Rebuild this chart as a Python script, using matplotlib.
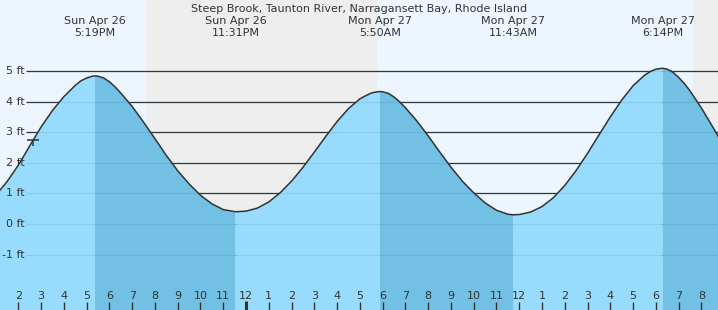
import numpy as np
import matplotlib
matplotlib.use("Agg")
import matplotlib.pyplot as plt

# ------------------------------------------------------------
# Data (hours counted from Sun Apr 26 00:00, heights in ft)
# ------------------------------------------------------------
TITLE = "Steep Brook, Taunton River, Narragansett Bay, Rhode Island"

hours = [13.0, 13.5, 14.0, 14.5, 15.0, 15.5, 16.0, 16.5, 16.75, 17.0,
         17.25, 17.37, 17.5, 17.75, 18.0, 18.25, 18.5, 19.0, 19.5, 20.0,
         20.5, 21.0, 21.5, 22.0, 22.5, 23.0, 23.54, 24.0, 24.5, 25.0,
         25.5, 26.0, 26.5, 27.0, 27.5, 28.0, 28.5, 29.0, 29.25, 29.5,
         29.75, 29.885, 30.0, 30.25, 30.5, 30.75, 31.0, 31.5, 32.0, 32.5,
         33.0, 33.5, 34.0, 34.5, 35.0, 35.5, 35.726, 36.0, 36.5, 37.0,
         37.5, 38.0, 38.5, 39.0, 39.5, 40.0, 40.5, 41.0, 41.5, 41.75,
         42.0, 42.30, 42.5, 42.75, 43.0, 43.25, 43.5, 44.0, 44.5, 45.0]
heights = [0.93, 1.38, 1.92, 2.55, 3.17, 3.71, 4.16, 4.53, 4.68, 4.77,
           4.83, 4.84, 4.83, 4.77, 4.65, 4.48, 4.28, 3.84, 3.33, 2.79,
           2.24, 1.74, 1.31, 0.94, 0.66, 0.47, 0.40, 0.42, 0.52, 0.72,
           1.02, 1.40, 1.85, 2.35, 2.86, 3.35, 3.77, 4.09, 4.19, 4.28,
           4.32, 4.33, 4.32, 4.27, 4.15, 3.99, 3.80, 3.37, 2.88, 2.36,
           1.86, 1.40, 1.02, 0.69, 0.45, 0.32, 0.30, 0.31, 0.39, 0.57,
           0.86, 1.26, 1.75, 2.31, 2.91, 3.50, 4.05, 4.52, 4.86, 4.98,
           5.06, 5.09, 5.06, 4.96, 4.79, 4.59, 4.35, 3.79, 3.17, 2.53]

extreme_hours = [17.37, 23.54, 29.885, 35.726, 42.30]
extreme_days  = ["Sun Apr 26", "Sun Apr 26", "Mon Apr 27", "Mon Apr 27", "Mon Apr 27"]
extreme_times = ["5:19PM", "11:31PM", "5:50AM", "11:43AM", "6:14PM"]

night_start = [19.61, 43.63]
night_end   = [29.75, 45.0]

hour_ticks = list(range(14, 45))
ft_levels  = [5, 4, 3, 2, 1, 0, -1]
now_hour   = 14.66

# ------------------------------------------------------------
# Style
# ------------------------------------------------------------
DAY_BG     = "#edf6fe"
NIGHT_BG   = "#eeeeee"
FILL_LIGHT = "#97dcfd"
FILL_DARK  = "#72c1e5"
LINE       = "#333333"
TEXT       = "#333333"
FS         = 8

W, H = 718, 310
fig = plt.figure(figsize=(W / 100, H / 100), dpi=100)
ax = fig.add_axes([0, 0, 1, 1])
ax.set_xlim(13.196, 13.196 + W / 22.77)
ax.set_ylim(-(H - 224) / 30.6, 224 / 30.6)
ax.set_facecolor(DAY_BG)
for s in ax.spines.values():
    s.set_visible(False)
ax.set_xticks([])
ax.set_yticks([])

# night shading
for a, b in zip(night_start, night_end):
    ax.axvspan(a, b, color=NIGHT_BG, lw=0, zorder=0)

# horizontal grid lines (dark above the water, faint through it)
ax.hlines(ft_levels, 26 / W, 1, transform=ax.get_yaxis_transform(),
          colors=LINE, lw=0.9, zorder=1)

# tide fill: rising light, falling dark
t = np.array(hours)
h = np.array(heights)
bounds = [t[0]] + extreme_hours + [t[-1]]
for a, b in zip(bounds[:-1], bounds[1:]):
    m = (t >= a) & (t <= b)
    falling = h[m][0] > h[m][-1]
    ax.fill_between(t[m], h[m], -10, color=FILL_DARK if falling else FILL_LIGHT,
                    lw=0, zorder=2)

ax.hlines(ft_levels, 26 / W, 1, transform=ax.get_yaxis_transform(),
          colors="#1d5f8a", lw=0.9, alpha=0.12, zorder=3)

ax.plot(t, h, color=LINE, lw=1.1, zorder=4, solid_joinstyle="round")

# current time marker
y_now = np.interp(now_hour, t, h)
ax.plot([now_hour], [y_now], marker="_", ms=8, mew=1.1, color=LINE, zorder=5)
ax.plot([now_hour], [y_now], marker=3, ms=4, mew=1.1, color=LINE, zorder=5)

# y labels
for v in ft_levels:
    ax.text(25 / W, v, f"{v} ft", transform=ax.get_yaxis_transform(),
            ha="right", va="center", fontsize=FS, color=TEXT, zorder=6)

# extreme labels
xt = ax.get_xaxis_transform()
for x, d, tm in zip(extreme_hours, extreme_days, extreme_times):
    ax.text(x, 1 - 24 / H, d, transform=xt, ha="center", va="baseline",
            fontsize=FS, color=TEXT)
    ax.text(x, 1 - 36.5 / H, tm, transform=xt, ha="center", va="baseline",
            fontsize=FS, color=TEXT)

fig.text(359 / W, 1 - 12.5 / H, TITLE, ha="center", va="baseline",
         fontsize=FS, color=TEXT)

# hour ticks along the bottom
ax.vlines(hour_ticks, 0, 8.3 / H, transform=xt, colors=TEXT, lw=1, zorder=6)
ax.vlines([24], 0, 9 / H, transform=xt, colors=TEXT, lw=2.2, zorder=6)
for hh in hour_ticks:
    lab = (hh % 24) % 12 or 12
    ax.text(hh, 1 - 299.3 / H, str(lab), transform=xt, ha="center",
            va="baseline", fontsize=FS, color=TEXT, zorder=6)

fig.savefig("out.png", dpi=100)
